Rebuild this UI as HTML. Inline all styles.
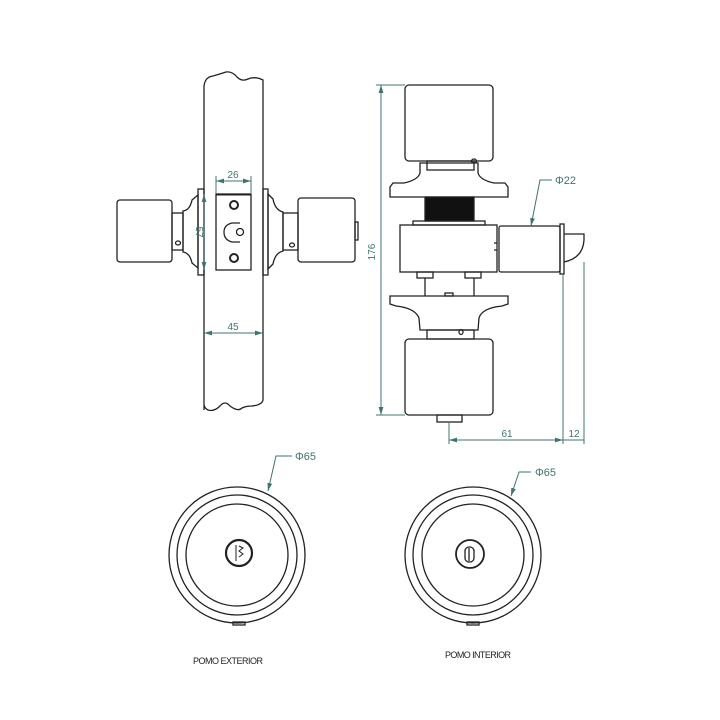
<!DOCTYPE html>
<html><head><meta charset="utf-8"><style>
html,body{margin:0;padding:0;background:#fff;}
svg{display:block}
text{font-family:"Liberation Sans",sans-serif;}
</style></head><body>
<svg width="720" height="720" viewBox="0 0 720 720" xmlns="http://www.w3.org/2000/svg">
<defs>
<marker id="a" viewBox="0 0 10 6" refX="10" refY="3" markerWidth="8" markerHeight="5" orient="auto-start-reverse" markerUnits="userSpaceOnUse">
<path d="M0,0 L10,3 L0,6 Z" fill="#3f7470"/></marker>
</defs>
<g fill="none" stroke="#222" stroke-width="1.3">
<!-- door -->
<path d="M204,410 L204,86 Q205,77 213,76 Q220,74 226,72 Q232,71 237,77 Q242,82 248,79 Q255,76 263,80 L263,400 Q262,405 252,406 Q246,406 242,408 Q238,412 230,406 Q225,400 220,406 Q214,412 208,410 Q204,408 204,404"/>
<!-- left knob -->
<rect x="117" y="200" width="55" height="62" rx="3"/>
<rect x="172" y="213" width="11" height="37"/>
<path d="M183,211 Q190,210 192,200 L198,195 L198,268 L192,263 Q190,253 183,252 Z"/>
<rect x="198" y="189" width="6" height="86"/>
<ellipse cx="178" cy="243" rx="2.5" ry="2"/>
<!-- latch plate -->
<rect x="216" y="194" width="35" height="76"/>
<line x1="216" y1="194.5" x2="251" y2="194.5" stroke-width="2"/>
<circle cx="234" cy="205" r="4" stroke-width="2"/>
<circle cx="234" cy="258" r="4" stroke-width="2"/>
<path d="M240,223 L232,223 Q224,225 224,232 Q224,240 232,242 L240,242"/>
<circle cx="240" cy="232" r="3.5"/>
<!-- right knob -->
<rect x="263" y="189" width="5" height="86"/>
<path d="M268,194 L273,199 Q275,210 283,212 L283,251 Q275,253 273,264 L268,269 Z"/>
<rect x="283" y="213" width="15" height="37"/>
<ellipse cx="292" cy="245" rx="2.5" ry="2"/>
<rect x="298" y="198" width="57" height="64" rx="3"/>
<rect x="355" y="222" width="3" height="18"/>
<!-- side view -->
<rect x="405" y="85" width="88" height="76" rx="4"/>
<rect x="427" y="161" width="47" height="9"/>
<path d="M420,182 L420,172 L478,172 L478,182 Q480,189 494,192 L505,192 L508,196 L508,206 L390,206 L390,196 L393,192 L404,192 Q418,189 420,182 Z" transform="translate(0,-9)"/>
<rect x="425" y="197" width="49" height="24" fill="#111"/>
<rect x="413" y="221" width="72" height="4"/>
<rect x="400" y="225" width="97" height="47"/>
<path d="M497,243 L494,243 M497,250 L494,250"/>
<rect x="499" y="226" width="61" height="46" rx="2"/>
<rect x="560" y="224" width="4" height="50"/>
<path d="M564,234 L584,234 L584,240 Q583,258 564,262"/>
<rect x="417" y="272" width="16" height="6"/>
<rect x="465" y="272" width="16" height="6"/>
<line x1="425" y1="278" x2="425" y2="296"/>
<line x1="474" y1="278" x2="474" y2="296"/>
<path d="M390,296 L508,296 L508,304 L502,306 Q482,308 479,318 L478,330 L420,330 L419,318 Q415,308 396,306 L390,304 Z"/>
<rect x="445" y="293" width="8" height="3"/>
<rect x="427" y="330" width="47" height="9"/>
<ellipse cx="461" cy="332" rx="2" ry="2.5"/>
<rect x="405" y="339" width="88" height="76" rx="4"/>
<rect x="437" y="415" width="25" height="7"/>
<ellipse cx="474" cy="161" rx="2.5" ry="2"/>
<!-- bottom circles -->
<circle cx="237" cy="555" r="68"/>
<circle cx="237" cy="555" r="60"/>
<circle cx="237" cy="555" r="51"/>
<circle cx="239" cy="553" r="13" stroke-width="2.2"/>
<path d="M236,545 L236,561 M239,546 L243,548 L239,551 L243,554 L239,557" stroke-width="1"/>
<rect x="233" y="622" width="12" height="3"/>
<circle cx="473" cy="555" r="68"/>
<circle cx="473" cy="555" r="60"/>
<circle cx="473" cy="555" r="51"/>
<circle cx="470" cy="554" r="14" stroke-width="1.8"/>
<rect x="465" y="547" width="9" height="15" rx="4"/>
<line x1="469" y1="548" x2="469" y2="561"/>
<rect x="467" y="622" width="12" height="3"/>
</g>
<!-- dimensions -->
<g stroke="#3f7470" stroke-width="1" fill="none">
<line x1="216" y1="176" x2="216" y2="194"/><line x1="251" y1="176" x2="251" y2="194"/>
<line x1="216" y1="181" x2="251" y2="181" marker-start="url(#a)" marker-end="url(#a)"/>
<line x1="204" y1="194" x2="204" y2="270" marker-start="url(#a)" marker-end="url(#a)"/>
<line x1="204" y1="333" x2="263" y2="333" marker-start="url(#a)" marker-end="url(#a)"/>
<line x1="376" y1="85" x2="405" y2="85"/><line x1="376" y1="415" x2="405" y2="415"/>
<line x1="381" y1="85" x2="381" y2="415" marker-start="url(#a)" marker-end="url(#a)"/>
<line x1="449" y1="422" x2="449" y2="444"/>
<line x1="563" y1="274" x2="563" y2="444"/>
<line x1="584" y1="262" x2="584" y2="444"/>
<line x1="449" y1="440" x2="563" y2="440" marker-start="url(#a)" marker-end="url(#a)"/>
<line x1="563" y1="440" x2="584" y2="440"/>
<path d="M552,180 L540,180 L531,226" marker-end="url(#a)"/>
<path d="M292,456 L276,456 L268,491" marker-end="url(#a)"/>
<path d="M531,472 L519,472 L511,496" marker-end="url(#a)"/>
</g>
<g fill="#3f7470" font-size="10">
<text x="233" y="178" text-anchor="middle">26</text>
<text x="233" y="330" text-anchor="middle">45</text>
<text transform="translate(196,232) rotate(90)" text-anchor="middle">57</text>
<text transform="translate(375,252) rotate(-90)" text-anchor="middle">176</text>
<text x="507" y="437" text-anchor="middle">61</text>
<text x="574" y="437" text-anchor="middle">12</text>
<text x="555" y="184" font-size="11">Φ22</text>
<text x="295" y="460" font-size="11">Φ65</text>
<text x="535" y="476" font-size="11">Φ65</text>
</g>
<g fill="#222" font-size="9">
<text x="228" y="664" text-anchor="middle" textLength="70">POMO EXTERIOR</text>
<text x="478" y="658" text-anchor="middle" textLength="66">POMO INTERIOR</text>
</g>
</svg>
</body></html>
